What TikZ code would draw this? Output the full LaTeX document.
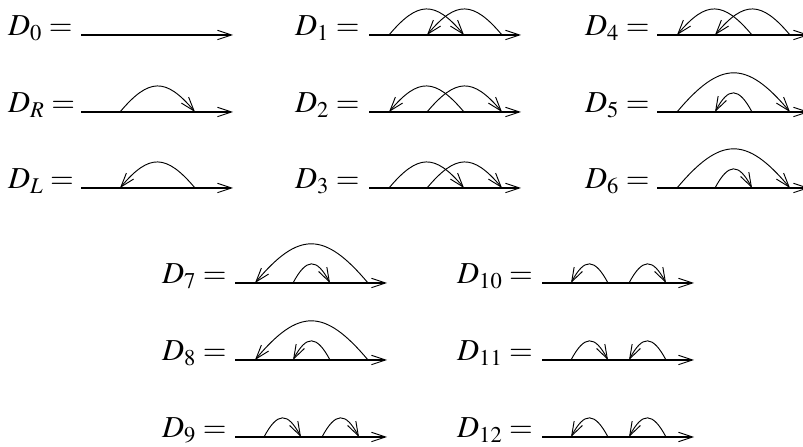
\documentclass[tikz,border=0pt]{standalone}
\usepackage{amsmath}
\usepackage{mathptmx}
\usetikzlibrary{arrows.meta,calc}

\begin{document}
\begin{tikzpicture}[x=0.03cm, y=0.03cm,
		>={Straight Barb[length=12pt,width=8pt,line width=0.8pt]},
		lab/.style={anchor=base west, inner sep=0pt, font=\fontsize{26}{30}\selectfont},
		axis/.style={line width=1.6pt, ->},
		hump/.style={line width=0.8pt, out=50, in=130, looseness=1.54},
		bump/.style={line width=0.8pt, out=62, in=118, looseness=1.98}]
				\useasboundingbox (0,0) rectangle (803,447);
				% Labels and base lines
				\foreach \n/\lx/\sx/\y in {0/8/81/412, R/8/81/335, L/8/81/259,
						1/295/369/412, 2/295/369/335, 3/295/369/259,
						4/585/657/412, 5/585/657/335, 6/585/657/259,
						7/162/235/164, 8/162/235/87, 9/162/235/10,
						10/457/542/164, 11/457/542/87, 12/457/542/10} {
					\node[lab] (D\n) at (\lx,\y-1) {$D_{\n} =$};
					\coordinate (s\n) at (\sx,\y);
					\coordinate (e\n) at (\sx+152,\y);
					\draw[axis] (s\n) -- (e\n);
				}
				% Points on the lines
				\foreach \n in {R,L}
					\foreach \k/\dx in {a/39,b/114}
						\coordinate (\k\n) at ($(s\n)+(\dx,0)$);
				\foreach \n in {1,...,8}
					\foreach \k/\dx in {a/20,b/58,c/95,d/133}
						\coordinate (\k\n) at ($(s\n)+(\dx,0)$);
				\foreach \n in {9,...,12}
					\foreach \k/\dx in {a/29,b/66,c/87,d/124}
						\coordinate (\k\n) at ($(s\n)+(\dx,0)$);
				% D_R and D_L
				\draw[hump,->] (aR) to (bR);
				\draw[hump,<-] (aL) to (bL);
				% D_1 to D_4
				\draw[hump,->] (a1) to (c1);
				\draw[hump,<-] (b1) to (d1);
				\draw[hump,<-] (a2) to (c2);
				\draw[hump,->] (b2) to (d2);
				\draw[hump,->] (a3) to (c3);
				\draw[hump,->] (b3) to (d3);
				\draw[hump,<-] (a4) to (c4);
				\draw[hump,<-] (b4) to (d4);
				% D_5 to D_8
				\draw[hump,->] (a5) to (d5);
				\draw[bump,<-] (b5) to (c5);
				\draw[hump,->] (a6) to (d6);
				\draw[bump,->] (b6) to (c6);
				\draw[hump,<-] (a7) to (d7);
				\draw[bump,->] (b7) to (c7);
				\draw[hump,<-] (a8) to (d8);
				\draw[bump,<-] (b8) to (c8);
				% D_9 to D_12
				\draw[bump,->] (a9) to (b9);
				\draw[bump,->] (c9) to (d9);
				\draw[bump,<-] (a10) to (b10);
				\draw[bump,->] (c10) to (d10);
				\draw[bump,->] (a11) to (b11);
				\draw[bump,<-] (c11) to (d11);
				\draw[bump,<-] (a12) to (b12);
				\draw[bump,<-] (c12) to (d12);
			\end{tikzpicture}
\end{document}
